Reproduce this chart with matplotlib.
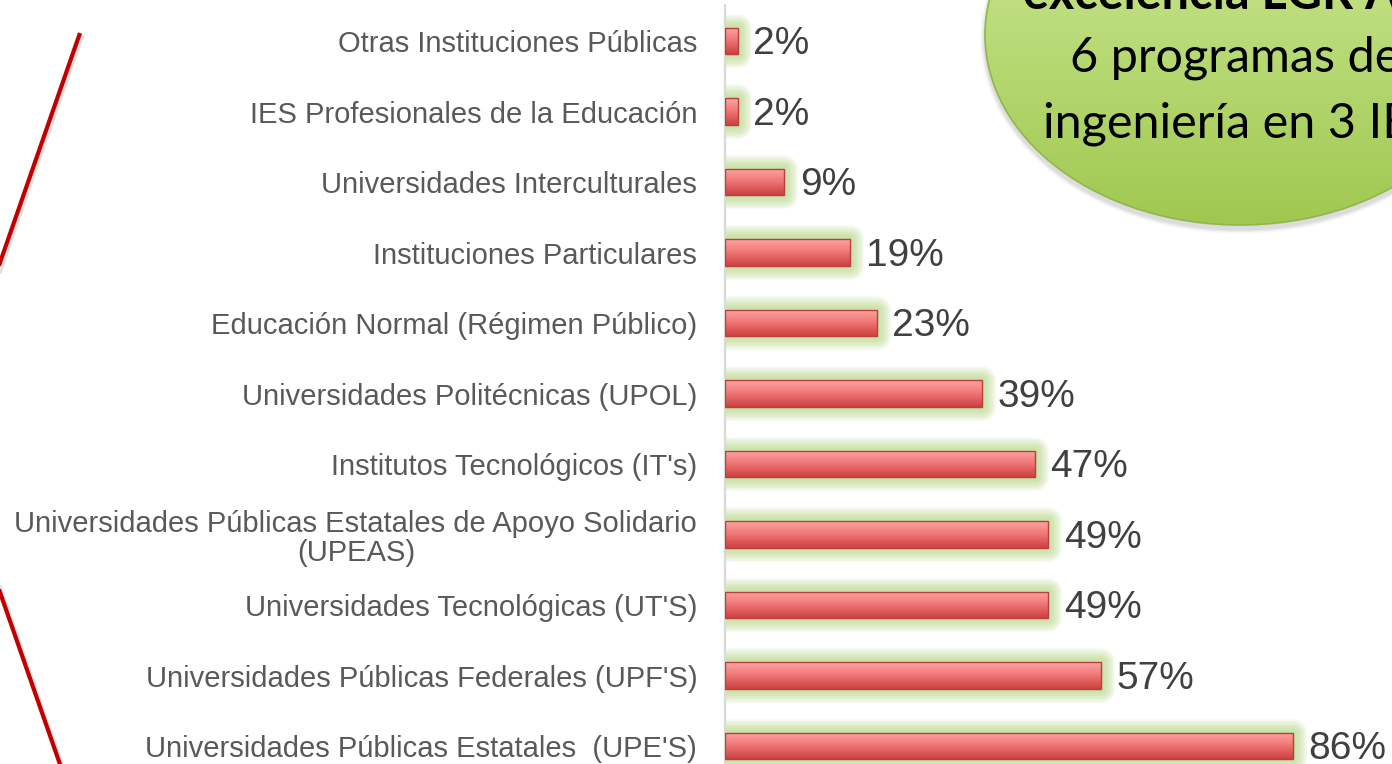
import numpy as np
import matplotlib
matplotlib.use("Agg")
import matplotlib.pyplot as plt
from matplotlib import patheffects as pe
from matplotlib.patches import Ellipse

# ---------------- data ----------------
categories = [
    "Otras Instituciones Públicas",
    "IES Profesionales de la Educación",
    "Universidades Interculturales",
    "Instituciones Particulares",
    "Educación Normal (Régimen Público)",
    "Universidades Politécnicas (UPOL)",
    "Institutos Tecnológicos (IT's)",
    "Universidades Públicas Estatales de Apoyo Solidario\n(UPEAS)",
    "Universidades Tecnológicas (UT'S)",
    "Universidades Públicas Federales (UPF'S)",
    "Universidades Públicas Estatales  (UPE'S)",
]
values = [2, 2, 9, 19, 23, 39, 47, 49, 49, 57, 86]
value_labels = [f"{v}%" for v in values]

bubble_lines = ["excelencia LGR A", "6 programas de", "ingeniería en 3 IES"]

# ---------------- figure ----------------
W, H = 1392, 764
fig = plt.figure(figsize=(W / 100, H / 100), dpi=100)
fig.patch.set_facecolor("white")

x0 = 725
ax = fig.add_axes([x0 / W, 0, (W - x0) / W, 1])
ax.set_facecolor("none")

px_per_unit = 6.6
spacing = 70.5
y_first = 41
ypos = np.arange(len(categories))
bar_h = 0.37

glow = [pe.Stroke(linewidth=lw, foreground="#a6d06a", alpha=0.085,
                  joinstyle="round")
        for lw in [20, 18, 16, 14, 12, 10, 8, 6, 4, 2]]
bars = ax.barh(ypos, values, height=bar_h, color="#e86e6e", edgecolor="none",
               zorder=2, path_effects=glow + [pe.Normal()])

grad = np.linspace(0, 1, 64)[:, None]
top_c = np.array([253, 165, 163]) / 255
mid_c = np.array([242, 122, 122]) / 255
bot_c = np.array([205, 64, 64]) / 255
img = np.where(grad < 0.45,
               top_c + (mid_c - top_c) * (grad / 0.45),
               mid_c + (bot_c - mid_c) * ((grad - 0.45) / 0.55))
img = img.reshape(64, 1, 3)
for b in bars:
    x, y, w, h = b.get_x(), b.get_y(), b.get_width(), b.get_height()
    im = ax.imshow(img, extent=[x, x + w, y + h, y], origin="upper",
                   aspect="auto", zorder=3, interpolation="bilinear")
    im.set_clip_path(b)
ax.barh(ypos, values, height=bar_h, color="none", edgecolor="#b8403e",
        linewidth=1.0, zorder=4)

for yi, v, lab in zip(ypos, values, value_labels):
    ax.annotate(lab, (v, yi), xytext=(11, -2.5), textcoords="offset points",
                va="center", ha="left", fontsize=28, color="#404040",
                family="Liberation Sans", zorder=5)

ax.set_xlim(0, (W - x0) / px_per_unit)
ytop = -y_first / spacing
ybot = (H - y_first) / spacing
ax.set_ylim(ybot, ytop)

ax.set_yticks(ypos)
ax.set_yticklabels(categories, fontsize=21, color="#595959",
                   family="Liberation Sans", multialignment="center",
                   linespacing=1.05)
ax.tick_params(axis="y", length=0, pad=20)
ax.set_xticks([])
for s in ["top", "right", "bottom"]:
    ax.spines[s].set_visible(False)
ax.spines["left"].set_color("#d9d9d9")
ax.spines["left"].set_linewidth(1.6)
ax.spines["left"].set_bounds(ybot, (5 - y_first) / spacing)

# ---------------- overlay decorations ----------------
ov = fig.add_axes([0, 0, 1, 1], zorder=10)
ov.set_xlim(0, W)
ov.set_ylim(H, 0)
ov.axis("off")
ov.set_facecolor("none")

# red lines
for (xa, ya), (xb, yb) in [((80, 33), (-20, 320)), ((-20, 535), (62, 770))]:
    ov.plot([xa + 2, xb + 2], [ya + 2, yb + 2], color="#888888", lw=3.5,
            alpha=0.25, solid_capstyle="butt")
    ov.plot([xa, xb], [ya, yb], color="#c00000", lw=3.0, solid_capstyle="butt")

# bubble shadow
cx, cy, a, b = 1240, 35, 255, 190
for k, al in [(9, 0.05), (6, 0.07), (3, 0.09)]:
    ov.add_patch(Ellipse((cx, cy + 4), 2 * a + k, 2 * b + k, color="#555555",
                         alpha=al, lw=0))
ell = Ellipse((cx, cy), 2 * a, 2 * b, facecolor="none", edgecolor="#8fb84a",
              lw=1.2, zorder=3)
ov.add_patch(ell)
g2 = np.linspace(0, 1, 128)[:, None]
c_top = np.array([212, 238, 160]) / 255
c_bot = np.array([160, 200, 80]) / 255
bimg = (c_top + (c_bot - c_top) * g2).reshape(128, 1, 3)
bim = ov.imshow(bimg, extent=[cx - a, cx + a, cy + b, cy - b], origin="upper",
                aspect="auto", zorder=2, interpolation="bilinear")
bim.set_clip_path(ell)
ov.set_xlim(0, W)
ov.set_ylim(H, 0)

ov.text(1023, 9, bubble_lines[0], fontsize=35, fontweight="bold",
        family="Lato", color="black", va="baseline", ha="left", zorder=4)
ov.text(1070, 72, bubble_lines[1], fontsize=35, family="Lato",
        color="black", va="baseline", ha="left", zorder=4)
ov.text(1043, 137, bubble_lines[2], fontsize=35, family="Lato",
        color="black", va="baseline", ha="left", zorder=4)

fig.savefig("out.png", dpi=100)
